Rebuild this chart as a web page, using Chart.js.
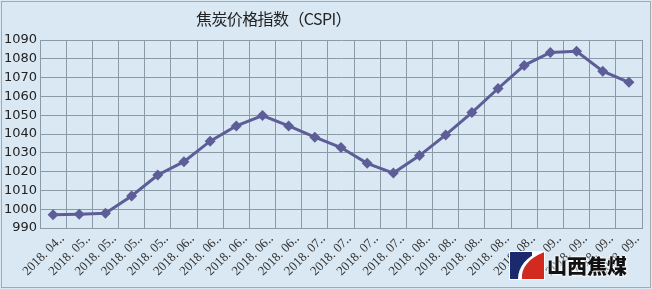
<!DOCTYPE html>
<html>
<head>
<meta charset="utf-8">
<script src="https://cdn.jsdelivr.net/npm/chart.js@4/dist/chart.umd.min.js"></script>
<style>
  html, body { margin: 0; padding: 0; background: #dae8f3; }
  #wrap { position: relative; width: 652px; height: 289px; }
  #title { position: absolute; left: 196px; top: 6px; font-family: "Noto Sans CJK SC", sans-serif;
    font-size: 16px; letter-spacing: -0.6px; color: #222; white-space: nowrap; }
  #logo { position: absolute; left: 509px; top: 250px; height: 30px; display: flex; align-items: center; }
  #logo span { font-family: "Noto Sans CJK SC", sans-serif; font-weight: 900; font-size: 20px; color: #111;
    letter-spacing: 0px; margin-left: 2px; text-shadow: 0 0 2px #fff, 0 0 2px #fff, 0 0 3px #fff; }
</style>
</head>
<body>
<div id="wrap">
  <canvas id="myChart" width="652" height="289"></canvas>
  <div id="title">焦炭价格指数（CSPI）</div>
  <div id="logo">
    <svg width="36" height="29" viewBox="0 0 36 29">
      <rect x="0" y="0" width="36" height="29" fill="#ffffff"/>
      <rect x="1" y="1" width="22" height="27" fill="#1b2a6c"/>
      <path d="M13 28 C12 17 20 6 35 1 L35 28 Z" fill="#d32a1f"/>
      <path d="M9 28 C9 16 18 5 31 1 L35 1 C20 7 12 17 13 28 Z" fill="#ffffff"/>
    </svg>
    <span>山西焦煤</span>
  </div>
</div>
<script>
// 焦炭价格指数
var labels = ['2018. 04‥', '2018. 05‥', '2018. 05‥', '2018. 05‥', '2018. 05‥',
  '2018. 06‥', '2018. 06‥', '2018. 06‥', '2018. 06‥', '2018. 06‥',
  '2018. 07‥', '2018. 07‥', '2018. 07‥', '2018. 07‥',
  '2018. 08‥', '2018. 08‥', '2018. 08‥', '2018. 08‥', '2018. 08‥',
  '2018. 09‥', '2018. 09‥', '2018. 09‥', '2018. 09‥'];
var cspi = [997, 997.3, 997.8, 1007, 1018.2, 1025.3, 1036.2, 1044.3, 1049.8, 1044.3, 1038.3, 1032.8,
  1024.4, 1019.2, 1028.5, 1039.5, 1051.4, 1064.2, 1076.5, 1083.4, 1084, 1073.4, 1067.5];
var yMin = 990, yMax = 1090, yStep = 10;

var bgColor = '#dae8f3';
var gridColor = '#8a9aa6';
var lineColor = '#5d5e98';

var bgPlugin = {
  id: 'bg',
  beforeDraw: function(chart) {
    var c = chart.ctx;
    c.save();
    c.fillStyle = bgColor;
    c.fillRect(0, 0, chart.width, chart.height);
    c.strokeStyle = '#a3a9ad';
    c.lineWidth = 1;
    c.strokeRect(1.5, 1.5, chart.width - 3, chart.height - 3);
    c.restore();
  }
};

const ctx = document.getElementById('myChart');
var chart = new Chart(ctx, {
  type: 'line',
  data: {
    labels: labels,
    datasets: [{
      data: cspi,
      borderColor: lineColor,
      backgroundColor: lineColor,
      borderWidth: 3,
      pointStyle: 'rectRot',
      pointRadius: 5.5,
      pointBorderWidth: 0,
      tension: 0
    }]
  },
  options: {
    responsive: false,
    animation: false,
    layout: { padding: { left: 0, right: 10, top: 40, bottom: 0 } },
    plugins: {
      legend: { display: false },
      tooltip: { enabled: false },
      title: { display: false }
    },
    scales: {
      x: {
        offset: true,
        grid: { offset: true, color: gridColor, drawTicks: false },
        border: { color: gridColor },
        ticks: {
          color: '#333',
          font: { family: '"Liberation Serif", serif', size: 13 },
          minRotation: 45, maxRotation: 45,
          padding: 3,
          labelOffset: 9,
          autoSkip: false
        },
        afterFit: function(s) { s.height = 61; }
      },
      y: {
        min: yMin, max: yMax,
        grid: { color: gridColor, drawTicks: false },
        border: { color: gridColor },
        ticks: {
          stepSize: yStep,
          color: '#222',
          font: { family: '"DejaVu Sans", sans-serif', size: 13 },
          padding: 3,
          callback: function(v) { return String(v); }
        },
        afterFit: function(s) { s.width = 40; }
      }
    }
  },
  plugins: [bgPlugin]
});
</script>
</body>
</html>
